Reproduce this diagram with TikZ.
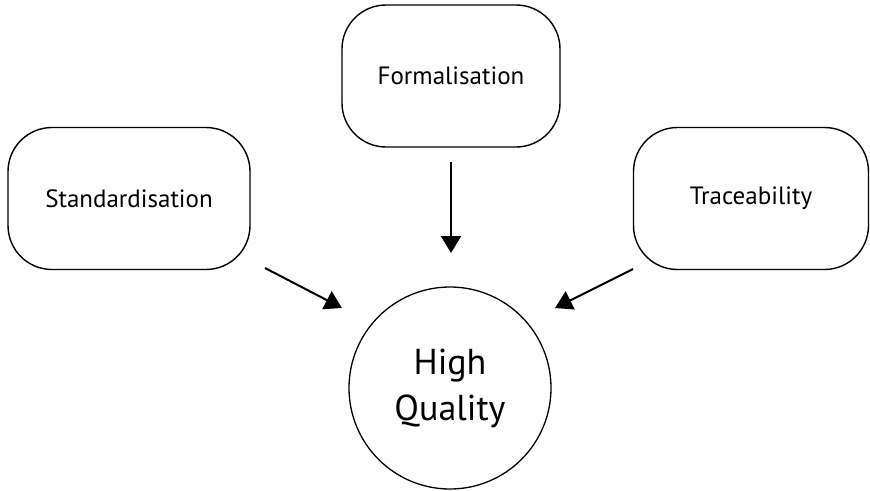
\documentclass[tikz,border=0pt]{standalone}
\usepackage{fontspec}
\setmainfont{PT Sans}
\usetikzlibrary{arrows.meta}
\begin{document}
\begin{tikzpicture}[x=1pt,y=-1pt,
  box/.style={draw,line width=1.4pt,rounded corners=44pt,minimum width=#1,minimum height=142pt,inner sep=0pt,font=\fontsize{25}{30}\selectfont},
  goal/.style={draw,circle,line width=1.3pt,minimum size=202pt,inner sep=0pt,align=center,font=\fontsize{36}{46}\selectfont},
  arr/.style={line width=2pt,-{Triangle[length=17pt,width=20pt]}}]
\useasboundingbox (0,0) rectangle (870,490);
\node[box=242pt] (std) at (129,198.5) {Standardisation};
\node[box=218pt] (form) at (451,76) {Formalisation};
\node[box=235pt] (trace) at (751,198.5) {Traceability};
\node[goal] (hq) at (450,388) {High\\Quality};
\coordinate (s1) at (265,268);
\coordinate (s2) at (342,308);
\coordinate (f1) at (451,162);
\coordinate (f2) at (451,253);
\coordinate (t1) at (633,269);
\coordinate (t2) at (555,308);
\draw[arr] (s1) -- (s2);
\draw[arr] (f1) -- (f2);
\draw[arr] (t1) -- (t2);
\end{tikzpicture}
\end{document}
